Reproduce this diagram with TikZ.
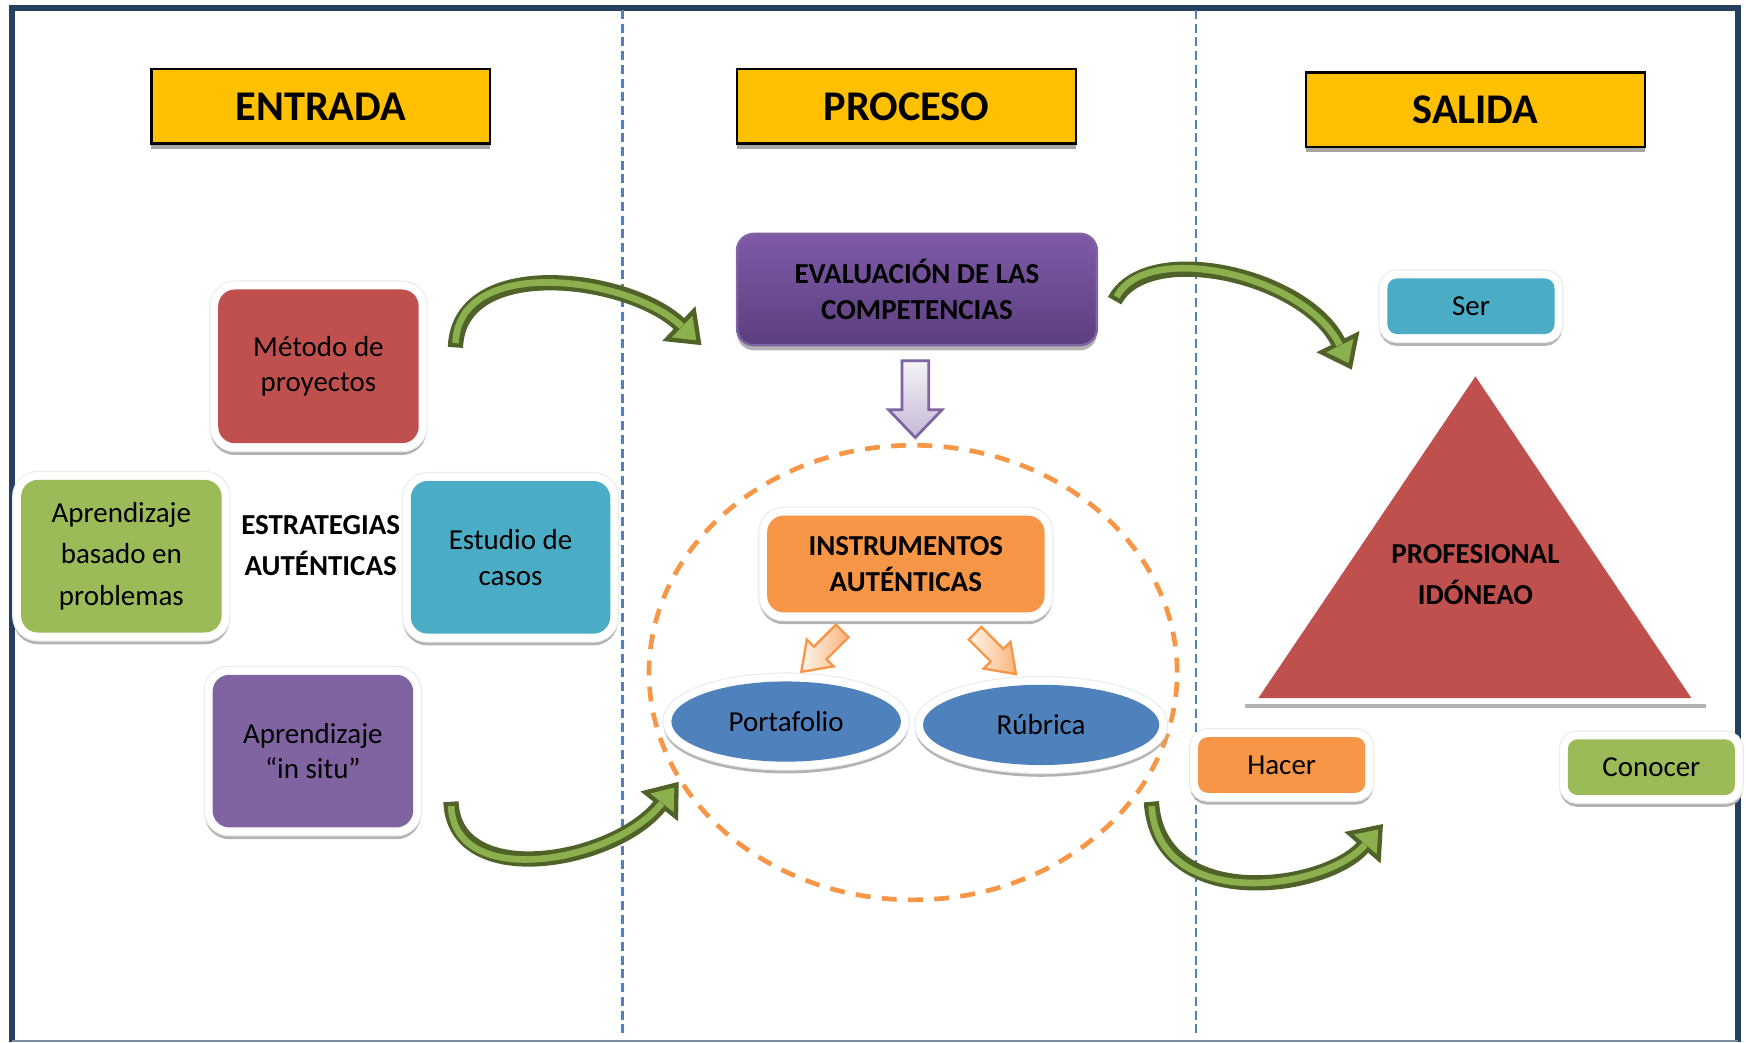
\documentclass[tikz,border=0pt]{standalone}
\usepackage{fontspec}
\setmainfont{Carlito}
\usetikzlibrary{shapes.geometric,shadows,arrows.meta}

\definecolor{hdr}{HTML}{FFC000}
\definecolor{rojo}{HTML}{C0504D}
\definecolor{verde}{HTML}{9BBB59}
\definecolor{cian}{HTML}{4BACC6}
\definecolor{morado}{HTML}{8064A2}
\definecolor{naranja}{HTML}{F79646}
\definecolor{azul}{HTML}{4F81BD}
\definecolor{marco}{HTML}{243F60}
\definecolor{evtop}{HTML}{7E5AA8}
\definecolor{evbot}{HTML}{5C3F7E}
\definecolor{gdark}{HTML}{4F6228}
\definecolor{glight}{HTML}{8DB04F}

\newcommand{\hdrfont}{\fontsize{10.8}{13}\selectfont\bfseries}
\newcommand{\txtfont}{\fontsize{7.4}{9.1}\selectfont}
\newcommand{\txtfontw}{\fontsize{7.4}{10.5}\selectfont}

\begin{document}
\begin{tikzpicture}[x=0.01cm,y=-0.01cm]
\tikzstyle{hdrbox}=[draw=black,line width=0.6pt,fill=hdr,font=\hdrfont,minimum width=3.04cm,minimum height=0.67cm,
  drop shadow={shadow xshift=0pt,shadow yshift=-1.3pt,opacity=1,fill=black!35}]
\tikzstyle{bevel}=[drop shadow={shadow xshift=0pt,shadow yshift=-1pt,opacity=1,fill=black!30,draw=black!30,line width=4pt},
  preaction={draw=black!8,line width=4.6pt},preaction={draw=white,line width=4pt}]
\tikzstyle{caja}=[bevel,rounded corners=4.3pt,align=center,font=\txtfont,inner sep=2pt]
\tikzstyle{garrow}=[draw=gdark,line width=3.9pt,-{Triangle[length=8pt,width=12pt,fill=glight,line width=1.1pt]},
  postaction={draw=glight,line width=1.7pt,arrows=-,shorten >=7pt,shorten <=1.1pt}]
\tikzstyle{oarrow}=[draw=naranja,line width=0.6pt,left color=orange!8,right color=naranja!70]
\tikzstyle{sep}=[azul,line width=0.6pt,dash pattern=on 2.3pt off 1.2pt]

\useasboundingbox (0,0) rectangle (1568,936);
% marco y columnas
\draw[marco,line width=1.6pt] (11,936) -- (11,7) -- (1561,7) -- (1561,936);
\draw[marco!60,line width=0.6pt] (11,935) -- (1561,935);
\draw[sep] (559,9) -- (559,932);
\draw[sep] (1074,9) -- (1074,932);

% titulos
\node[hdrbox] (ent) at (288,95.5) {ENTRADA};
\node[hdrbox] (pro) at (814,95.5) {PROCESO};
\node[hdrbox] (sal) at (1325,98.5) {SALIDA};

% entrada
\node[caja,fill=rojo,minimum width=1.8cm,minimum height=1.38cm] (met) at (286,329) {Método de\\proyectos};
\node[caja,fill=verde,minimum width=1.8cm,minimum height=1.37cm,font=\txtfontw] (abp) at (109,499.5) {Aprendizaje\\basado en\\problemas};
\node[align=center,font=\txtfontw\bfseries] (estr) at (288,490) {ESTRATEGIAS\\AUTÉNTICAS};
\node[caja,fill=cian,minimum width=1.79cm,minimum height=1.37cm] (caso) at (458.5,500.5) {Estudio de\\casos};
\node[caja,fill=morado,minimum width=1.8cm,minimum height=1.37cm] (situ) at (281,674.5) {Aprendizaje\\“in situ”};

% proceso
\node[rounded corners=4.3pt,top color=evtop,bottom color=evbot,draw=morado,line width=0.6pt,align=center,
  font=\txtfont\bfseries,minimum width=3.23cm,minimum height=1cm,
  drop shadow={shadow xshift=0pt,shadow yshift=-1.3pt,opacity=1,fill=black!30}] (eval) at (823.5,260)
  {EVALUACIÓN DE LAS\\COMPETENCIAS};
\draw[morado,line width=0.7pt,top color=morado!8,bottom color=morado!45]
  (810,324) -- (834,324) -- (834,368) -- (846,368) -- (822,393) -- (798,368) -- (810,368) -- cycle;
\node[ellipse,draw=naranja,line width=1.2pt,dash pattern=on 3.8pt off 2.9pt,minimum width=4.74cm,minimum height=4.08cm] (zona) at (820,604) {};
\node[caja,fill=naranja,minimum width=2.49cm,minimum height=0.87cm,font=\txtfont\bfseries] (inst) at (813.5,506.5) {INSTRUMENTOS\\AUTÉNTICAS};
\begin{scope}[shift={(738,585)},rotate=-135]
\draw[oarrow] (-26,-8) -- (2,-8) -- (2,-17) -- (26,0) -- (2,17) -- (2,8) -- (-26,8) -- cycle;
\end{scope}
\begin{scope}[shift={(894,587)},rotate=-45]
\draw[oarrow] (-26,-8) -- (2,-8) -- (2,-17) -- (26,0) -- (2,17) -- (2,8) -- (-26,8) -- cycle;
\end{scope}
\node[caja,ellipse,fill=azul,minimum width=2.06cm,minimum height=0.72cm] (port) at (706,648) {Portafolio};
\node[caja,ellipse,fill=azul,minimum width=2.12cm,minimum height=0.72cm] (rub) at (935,651) {Rúbrica};

% salida
\node[caja,rounded corners=2.5pt,fill=cian,minimum width=1.5cm,minimum height=0.5cm] (ser) at (1321,275) {Ser};
\draw[black!30,line width=1.2pt] (1118,634) -- (1532,634);
\fill[rojo] (1325,338) -- (1519,627) -- (1130,627) -- cycle;
\node[align=center,font=\txtfontw\bfseries] (prof) at (1325,516) {PROFESIONAL\\IDÓNEAO};
\node[caja,rounded corners=2.5pt,fill=naranja,minimum width=1.5cm,minimum height=0.5cm] (hac) at (1151,687) {Hacer};
\node[caja,rounded corners=2.5pt,fill=verde,minimum width=1.5cm,minimum height=0.5cm] (con) at (1483,689) {Conocer};

% flechas curvas
\coordinate (a1) at (409,312);
\coordinate (b1) at (630,310);
\coordinate (a2) at (405,720);
\coordinate (b2) at (zona.205);
\coordinate (a3) at (1001,270);
\coordinate (b3) at (1214,332);
\coordinate (a4) at (1034,720);
\coordinate (b4) at (1242,740);
\draw[garrow] (a1) .. controls +(3,-84) and +(-65,-62) .. (b1);
\draw[garrow] (a2) .. controls +(3,80) and +(-58,73) .. (b2);
\draw[garrow] (a3) .. controls +(29,-55) and +(-42,-85) .. (b3);
\draw[garrow] (a4) .. controls +(6,100) and +(-52,60) .. (b4);
\end{tikzpicture}
\end{document}
